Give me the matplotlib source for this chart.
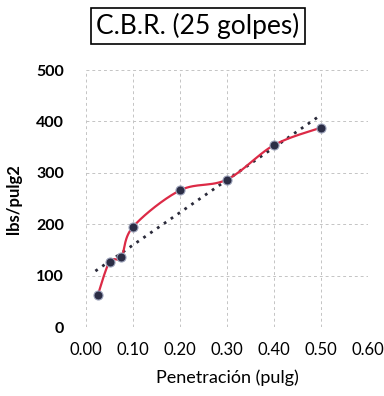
import numpy as np
import matplotlib
matplotlib.use("Agg")
import matplotlib.pyplot as plt

penetracion = [0.025, 0.05, 0.075, 0.10, 0.20, 0.30, 0.40, 0.50]
carga = [62, 127, 136, 195, 266, 287, 354, 388]
x_ticks = [0.0, 0.1, 0.2, 0.3, 0.4, 0.5, 0.6]
y_ticks = [0, 100, 200, 300, 400, 500]

plt.rcParams['font.family'] = ['Lato', 'DejaVu Sans']

def smooth(xs, ys, n=30, t=0.5):
    xs = np.asarray(xs, float); ys = np.asarray(ys, float)
    P = np.column_stack([xs, ys])
    out = []
    for i in range(len(P) - 1):
        p0 = P[i - 1] if i > 0 else P[i]
        p1 = P[i]; p2 = P[i + 1]
        p3 = P[i + 2] if i + 2 < len(P) else P[i + 1]
        c1 = p1 + (p2 - p0) * t / 3
        c2 = p2 - (p3 - p1) * t / 3
        s = np.linspace(0, 1, n)[:, None]
        seg = (1 - s) ** 3 * p1 + 3 * (1 - s) ** 2 * s * c1 + 3 * (1 - s) * s ** 2 * c2 + s ** 3 * p2
        out.append(seg)
    c = np.vstack(out)
    return c[:, 0], c[:, 1]

fig = plt.figure(figsize=(3.84, 3.96), dpi=100)
ax = fig.add_axes([0.224, 0.174, 0.734, 0.649])

sx, sy = smooth(penetracion, carga, t=0.5)
ax.plot(sx, sy, color='#dc2a46', lw=1.6, zorder=3)

coef = np.polyfit(penetracion, carga, 1)
tx = np.array([penetracion[0] - 0.005, penetracion[-1]])
ax.plot(tx, np.polyval(coef, tx), color='#2a2a3a', lw=2.0, ls=(0, (1, 2)), zorder=2)

ax.plot(penetracion, carga, 'o', ms=6.5, color='#2b2d45', mec='#9aa0b8', mew=0.8, zorder=4)

ax.set_xlim(0, 0.6)
ax.set_ylim(0, 500)
ax.set_xticks(x_ticks)
ax.set_yticks(y_ticks)
ax.set_xticklabels([f"{v:.2f}" for v in x_ticks], fontsize=12)
ax.set_yticklabels([str(v) for v in y_ticks], fontsize=11.5, fontweight='bold')
ax.tick_params(length=0)
ax.tick_params(axis='x', pad=11)
ax.tick_params(axis='y', pad=33 - 17)
for s in ax.spines.values():
    s.set_visible(False)
ax.grid(True, color='#c4c4c4', ls=(0, (3, 3)), lw=0.7)
ax.set_axisbelow(True)

ax.set_xlabel("Penetración (pulg)", fontsize=13, labelpad=8)
ax.set_ylabel("lbs/pulg2", fontsize=12, fontweight='bold', labelpad=10)

fig.text(0.515, 0.934, "C.B.R. (25 golpes)", ha='center', va='center', fontsize=19,
         bbox=dict(boxstyle='square,pad=0.2', fc='white', ec='black', lw=1.2))

fig.savefig("out.png", dpi=100)
